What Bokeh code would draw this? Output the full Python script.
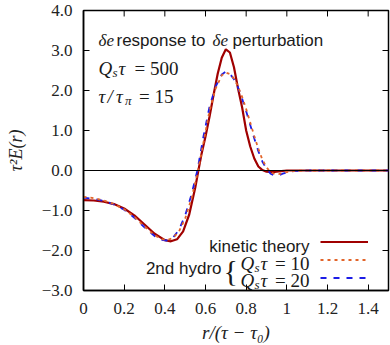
from bokeh.plotting import figure
from bokeh.models import Range1d, FixedTicker, Span, Label, Legend, LegendItem
from bokeh.core.properties import value
from bokeh.embed import file_html
from bokeh.resources import INLINE

# ---- data ----
x_kin = [0.00, 0.05, 0.10, 0.15, 0.20, 0.25, 0.30, 0.35, 0.40, 0.43, 0.46, 0.49, 0.52, 0.55,
         0.565, 0.58, 0.60, 0.62, 0.64, 0.66, 0.68, 0.70, 0.72, 0.74, 0.76, 0.78, 0.80, 0.82,
         0.84, 0.86, 0.88, 0.90, 0.93, 0.96, 1.00, 1.50]
y_kin = [-0.74, -0.75, -0.78, -0.84, -0.95, -1.12, -1.35, -1.58, -1.74, -1.77, -1.72, -1.52, -1.10, -0.42,
         0.00, 0.40, 0.85, 1.35, 1.90, 2.42, 2.82, 3.03, 2.95, 2.58, 2.05, 1.58, 1.00, 0.60,
         0.30, 0.10, 0.01, -0.03, -0.04, -0.02, 0.00, 0.00]

x_h10 = [0.00, 0.05, 0.10, 0.15, 0.20, 0.25, 0.30, 0.35, 0.38, 0.41, 0.44, 0.47, 0.50, 0.53,
         0.56, 0.59, 0.62, 0.65, 0.68, 0.70, 0.72, 0.74, 0.76, 0.78, 0.80, 0.82, 0.84, 0.86,
         0.88, 0.90, 0.92, 0.94, 0.96, 0.98, 1.00, 1.04, 1.10, 1.50]
y_h10 = [-0.66, -0.69, -0.75, -0.84, -0.97, -1.16, -1.40, -1.62, -1.71, -1.74, -1.69, -1.52, -1.20, -0.72,
         -0.08, 0.70, 1.50, 2.05, 2.38, 2.45, 2.41, 2.30, 2.10, 1.84, 1.54, 1.20, 0.86, 0.54,
         0.27, 0.08, -0.04, -0.09, -0.09, -0.06, -0.04, -0.01, 0.00, 0.00]

x_h20 = [0.00, 0.05, 0.10, 0.15, 0.20, 0.25, 0.30, 0.35, 0.38, 0.41, 0.44, 0.47, 0.50, 0.53,
         0.56, 0.59, 0.62, 0.65, 0.68, 0.70, 0.72, 0.74, 0.76, 0.78, 0.80, 0.82, 0.84, 0.86,
         0.88, 0.90, 0.92, 0.94, 0.96, 0.98, 1.00, 1.04, 1.10, 1.50]
y_h20 = [-0.68, -0.71, -0.76, -0.85, -0.98, -1.18, -1.42, -1.64, -1.73, -1.75, -1.68, -1.48, -1.12, -0.62,
         0.00, 0.85, 1.60, 2.10, 2.40, 2.47, 2.42, 2.28, 2.08, 1.80, 1.48, 1.14, 0.80, 0.48,
         0.22, 0.04, -0.08, -0.13, -0.12, -0.08, -0.05, -0.01, 0.00, 0.00]

x_ticks = [0, 0.2, 0.4, 0.6, 0.8, 1.0, 1.2, 1.4]
x_tick_labels = ["0", "0.2", "0.4", "0.6", "0.8", "1", "1.2", "1.4"]
y_ticks = [-3, -2, -1, 0, 1, 2, 3, 4]
y_tick_labels = ["\u22123.0", "\u22122.0", "\u22121.0", "0.0", "1.0", "2.0", "3.0", "4.0"]

X0, X1, Y0, Y1 = 0, 1.5, -3, 4

C_KIN = "#a00000"
C_H10 = "#e2642a"
C_H20 = "#1c1ce6"
SERIF = "Liberation Serif"
SANS = "Liberation Sans"

W, H = 390, 345
BL, BR, BT, BB = 83, 2, 10, 54
FW, FH = W - BL - BR, H - BT - BB

p = figure(width=W, height=H, output_backend="svg", toolbar_location=None,
           x_range=Range1d(X0, X1), y_range=Range1d(Y0, Y1),
           min_border_left=BL, min_border_right=BR, min_border_top=BT, min_border_bottom=BB)
p.xgrid.visible = False
p.ygrid.visible = False
p.outline_line_color = "black"
p.outline_line_width = 1.5
p.background_fill_color = "white"
p.border_fill_color = "white"

def style_axis(ax, ticks, labels):
    ax.ticker = FixedTicker(ticks=ticks)
    ax.major_label_overrides = {t: l for t, l in zip(ticks, labels)}
    ax.major_tick_in = 6
    ax.major_tick_out = 0
    ax.minor_tick_in = 0
    ax.minor_tick_out = 0
    ax.major_tick_line_color = "black"
    ax.major_tick_line_width = 1
    ax.axis_line_color = "black"
    ax.axis_line_width = 1.5
    ax.major_label_text_font = SERIF
    ax.major_label_text_color = "#222222"
    ax.major_label_text_font_size = "17px"
    ax.axis_label_text_font = SERIF
    ax.axis_label_text_font_style = "italic"
    ax.axis_label_text_font_size = "19px"
    ax.axis_label_text_color = "#222222"

xa = p.xaxis[0]
ya = p.yaxis[0]
style_axis(xa, x_ticks, x_tick_labels)
style_axis(ya, y_ticks, y_tick_labels)
xa.major_label_standoff = 12
ya.major_label_standoff = 11
xa.axis_label = "r/(\u03c4 \u2212 \u03c4\u2080)"
ya.axis_label = "\u03c4\u00b2E(r)"
ya.axis_label_text_font_size = "18px"
xa.axis_label_standoff = 5
ya.axis_label_standoff = 13

# inward ticks on the top and right frame edges (same tick positions as the axes)
tick_dy = 6 * (Y1 - Y0) / FH
tick_dx = 6 * (X1 - X0) / FW
p.segment(x0=x_ticks, y0=[Y1] * len(x_ticks), x1=x_ticks, y1=[Y1 - tick_dy] * len(x_ticks),
          line_color="black", line_width=1)
p.segment(x0=[X1] * len(y_ticks), y0=y_ticks, x1=[X1 - tick_dx] * len(y_ticks), y1=y_ticks,
          line_color="black", line_width=1)

p.add_layout(Span(location=0, dimension="width", line_color="black", line_width=1))

r_kin = p.line(x_kin, y_kin, line_color=C_KIN, line_width=2.2)
r_h20 = p.line(x_h20, y_h20, line_color=C_H20, line_width=1.8, line_dash="6 7")
r_h10 = p.line(x_h10, y_h10, line_color=C_H10, line_width=1.8, line_dash="3 4")

# pixel -> data helpers (text placement only)
def rx(px):
    return X0 + (px - BL) * (X1 - X0) / FW

def ry(py):
    return Y1 - (py - BT) * (Y1 - Y0) / FH

def lab(x, y, text, font=SERIF, size="19px", style="italic", align="left", baseline="alphabetic"):
    p.add_layout(Label(x=rx(x), y=ry(y), text=text, text_font=font, text_font_size=size,
                       text_font_style=style, text_align=align, text_baseline=baseline,
                       text_color="#1a1a1a"))

# line 1: δe response to δe perturbation
lab(98, 40, "\u03b4e", size="17px")
lab(116, 40, "response to", font=SANS, size="17px", style="normal")
lab(212, 40, "\u03b4e", size="17px")
lab(232, 40, "perturbation", font=SANS, size="17px", style="normal")
# line 2: Q_s τ = 500
lab(98, 68.5, "Q")
lab(112, 72.5, "s", size="13px")
lab(118, 68.5, "\u03c4")
lab(178, 68.5, "= 500", style="normal", align="right")
# line 3: τ/τ_π = 15
lab(98, 96.5, "\u03c4")
lab(107, 96.5, "/")
lab(115.5, 96.5, "\u03c4")
lab(124.5, 100.5, "\u03c0", size="13px")
lab(173, 96.5, "= 15", style="normal", align="right")

# legend texts
lab(309, 247, "kinetic theory", font=SANS, size="17px", style="normal", align="right")
lab(221, 269, "2nd hydro", font=SANS, size="17px", style="normal", align="right", baseline="middle")
lab(223, 271, "{", style="normal", size="30px", baseline="middle")
for yb, num in ((264, "= 10"), (281, "= 20")):
    lab(240, yb, "Q")
    lab(254, yb + 4, "s", size="13px")
    lab(260, yb, "\u03c4")
    lab(309, yb, num, style="normal", align="right")

legend = Legend(items=[LegendItem(label=value(" "), renderers=[r_kin]),
                       LegendItem(label=value(" "), renderers=[r_h10]),
                       LegendItem(label=value(" "), renderers=[r_h20])],
                location=(237, 4), orientation="vertical",
                glyph_width=48, glyph_height=17, label_height=17, label_width=1,
                label_standoff=0, padding=0, margin=0, spacing=1,
                label_text_font_size="8px",
                border_line_alpha=0, background_fill_alpha=0)
p.add_layout(legend)

open("out.html", "w").write(file_html(p, INLINE))
